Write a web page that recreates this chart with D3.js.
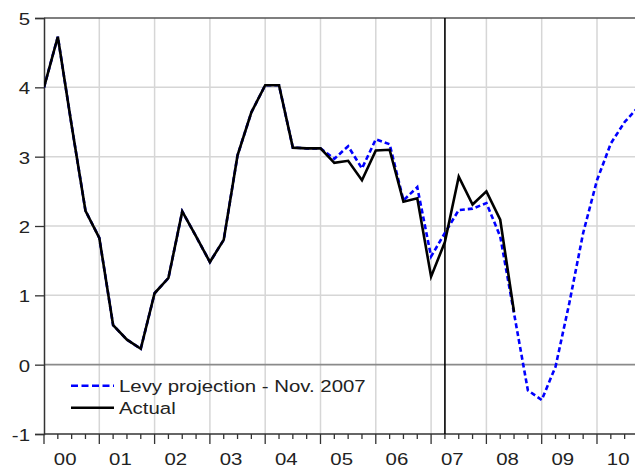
<!DOCTYPE html>
<html><head><meta charset="utf-8">
<script src="https://cdn.jsdelivr.net/npm/d3@7"></script>
<style>html,body{margin:0;padding:0;background:#fff}svg{display:block}</style>
</head><body>
<svg id="c" width="635" height="469"></svg>
<script>
// ---- data (quarterly, starting 2000Q1) ----
const startYear = 2000;
const actual = [4.00, 4.73, 3.45, 2.22, 1.83, 0.57, 0.36, 0.23, 1.03, 1.25, 2.21, 1.85,
  1.48, 1.80, 3.02, 3.64, 4.03, 4.03, 3.13, 3.12, 3.12, 2.91, 2.94, 2.66,
  3.09, 3.10, 2.35, 2.40, 1.27, 1.77, 2.71, 2.31, 2.50, 2.09, 0.76];
const projection = [4.00, 4.73, 3.45, 2.22, 1.83, 0.57, 0.36, 0.23, 1.03, 1.25, 2.21, 1.85,
  1.48, 1.80, 3.02, 3.64, 4.03, 4.03, 3.13, 3.12, 3.12, 2.97, 3.15, 2.83,
  3.25, 3.18, 2.37, 2.56, 1.56, 1.90, 2.23, 2.25, 2.33, 1.85, 0.74, -0.37,
  -0.51, -0.03, 0.89, 1.90, 2.66, 3.19, 3.50, 3.72];
const yTicks = [-1, 0, 1, 2, 3, 4, 5];
const yearLabels = ["00","01","02","03","04","05","06","07","08","09","10"];
const seriesNames = ["Levy projection - Nov. 2007", "Actual"];
const markerDate = 2007.25;

// ---- layout ----
const L = 44, T = 18, R = 635.7, B = 434;
const svg = d3.select("#c");
const x = d3.scaleLinear().domain([2000, 2010.7]).range([L, R]);
const y = d3.scaleLinear().domain([-1, 5]).range([B, T]);
const tq = i => startYear + i / 4;
const FONT = "'Liberation Sans', Arial, sans-serif";

svg.append("defs").append("clipPath").attr("id", "clip")
  .append("rect").attr("x", L).attr("y", T - 2).attr("width", 640 - L).attr("height", B - T + 4);

// grid
const years = d3.range(2001, 2011);
svg.append("g").selectAll("line").data(years).join("line")
  .attr("x1", d => x(d)).attr("x2", d => x(d)).attr("y1", T).attr("y2", B)
  .attr("stroke", "#d6d6d6").attr("stroke-width", 1.5);
svg.append("g").selectAll("line").data(yTicks.filter(v => v > -1 && v < 5 && v !== 0)).join("line")
  .attr("x1", L).attr("x2", 640).attr("y1", d => y(d)).attr("y2", d => y(d))
  .attr("stroke", "#d6d6d6").attr("stroke-width", 1.5);
// zero line
svg.append("line").attr("x1", L).attr("x2", 640).attr("y1", y(0)).attr("y2", y(0))
  .attr("stroke", "#8a8a8a").attr("stroke-width", 1.8);
// top border
svg.append("line").attr("x1", L).attr("x2", 640).attr("y1", y(5)).attr("y2", y(5))
  .attr("stroke", "#555").attr("stroke-width", 1.5);

// y axis
const yAxis = d3.axisLeft(y).tickValues(yTicks).tickSize(9).tickFormat(d => String(d));
const gy = svg.append("g").attr("transform", `translate(${L},0)`).call(yAxis);
gy.select(".domain").attr("stroke", "#333").attr("stroke-width", 1.5);
gy.selectAll(".tick line").attr("stroke", "#333").attr("stroke-width", 1.3);
gy.selectAll(".tick text")
  .attr("x", null).attr("dy", null)
  .attr("transform", `translate(${30 - L},6.5) scale(1.2,1)`)
  .attr("text-anchor", "end").attr("fill", "#222")
  .style("font-family", FONT).style("font-size", "17px");

// x axis major and minor ticks
const qt = d3.range(0, 43).map(tq).filter(t => t <= 2010.7);
const gx = svg.append("g");
gx.append("line").attr("x1", L).attr("x2", 640).attr("y1", B).attr("y2", B)
  .attr("stroke", "#333").attr("stroke-width", 1.5);
gx.selectAll("line.tk").data(qt).join("line").attr("class", "tk")
  .attr("x1", d => x(d)).attr("x2", d => x(d)).attr("y1", B)
  .attr("y2", d => Number.isInteger(d) ? B + 10 : B + 5)
  .attr("stroke", "#333").attr("stroke-width", 1.3);
gx.selectAll("text").data(yearLabels).join("text")
  .attr("transform", (d, i) => `translate(${x(startYear + i + 0.5) - 6.5},465) scale(1.2,1)`)
  .attr("text-anchor", "middle").attr("fill", "#222")
  .style("font-family", FONT).style("font-size", "17px")
  .text(d => d);

// marker line
svg.append("line").attr("x1", x(markerDate)).attr("x2", x(markerDate)).attr("y1", T).attr("y2", B)
  .attr("stroke", "#000").attr("stroke-width", 1.6);

// series
const line = d3.line().x((d, i) => x(tq(i))).y(d => y(d));
const gl = svg.append("g").attr("clip-path", "url(#clip)");
gl.append("path").datum(projection).attr("d", line)
  .attr("fill", "none").attr("stroke", "#0000ff").attr("stroke-width", 2.6)
  .attr("stroke-dasharray", "5,3");
gl.append("path").datum(actual).attr("d", line)
  .attr("fill", "none").attr("stroke", "#000").attr("stroke-width", 2.6);

// legend
const lg = svg.append("g");
const styles = [{c: "#0000ff", dash: "7,3.5"}, {c: "#000", dash: null}];
seriesNames.forEach((name, i) => {
  const yy = 385.7 + i * 22;
  lg.append("line").attr("x1", 71).attr("x2", 114).attr("y1", yy).attr("y2", yy)
    .attr("stroke", styles[i].c).attr("stroke-width", 2.6)
    .attr("stroke-dasharray", styles[i].dash);
  lg.append("text").attr("transform", `translate(119,${yy + 6.5}) scale(1.2,1)`)
    .attr("fill", "#222").style("font-family", FONT).style("font-size", "17px").text(name);
});
</script>
</body></html>
